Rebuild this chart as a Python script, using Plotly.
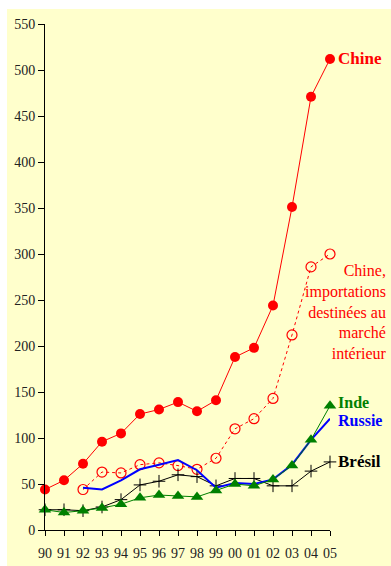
import plotly.graph_objects as go

# Years 1990-2005, plotted as 90..105 and labelled with two digits
years = list(range(90, 106))
year_labels = ["90", "91", "92", "93", "94", "95", "96", "97", "98", "99",
               "00", "01", "02", "03", "04", "05"]

chine = [44, 54, 72, 96, 105, 126, 131, 139, 129, 141, 188, 198, 244, 351, 471, 512]
chine_interieur = [None, None, 44, 63, 62, 71, 73, 70, 66, 78, 110, 121, 143, 212, 286, 300]
russie = [None, None, 46, 44, 54, 66, 71, 76, 65, 46, 51, 50, 55, 71, 98, 121]
inde = [22, 19, 21, 24, 28, 35, 38, 37, 36, 43, 50, 48, 55, 70, 98, 135]
bresil = [22, 22, 21, 25, 33, 49, 53, 60, 58, 48, 56, 56, 48, 48, 64, 74]

y_ticks = list(range(0, 551, 50))

RED = "#FF0000"
GREEN = "#008000"
BLUE = "#0000FF"
BLACK = "#000000"
BG = "#FFFFCC"
FONT = "Liberation Serif, Times New Roman, serif"

fig = go.Figure()

fig.add_trace(go.Scatter(
    x=years, y=chine_interieur, mode="lines+markers",
    line=dict(color=RED, width=1, dash="dot"),
    marker=dict(symbol="circle-open", size=10, color=RED, line=dict(width=1.2, color=RED)),
    cliponaxis=False, connectgaps=False))

fig.add_trace(go.Scatter(
    x=years, y=bresil, mode="lines+markers",
    line=dict(color=BLACK, width=1),
    marker=dict(symbol="cross-thin", size=9, line=dict(width=1, color=BLACK)),
    cliponaxis=False))

fig.add_trace(go.Scatter(
    x=years, y=russie, mode="lines",
    line=dict(color=BLUE, width=2),
    cliponaxis=False))

fig.add_trace(go.Scatter(
    x=years, y=inde, mode="lines+markers",
    line=dict(color=GREEN, width=1),
    marker=dict(symbol="triangle-up", size=11, color=GREEN),
    cliponaxis=False))

fig.add_trace(go.Scatter(
    x=years, y=chine, mode="lines+markers",
    line=dict(color=RED, width=1),
    marker=dict(symbol="circle", size=10, color=RED),
    cliponaxis=False))

# End-of-line series names (small vertical nudges keep Inde/Russie apart)
end_labels = [
    ("Chine", chine[-1], RED, 0, 17),
    ("Inde", inde[-1], GREEN, 3, 16),
    ("Russie", russie[-1], BLUE, -2, 16),
    ("Brésil", bresil[-1], BLACK, 0, 17),
]
annotations = []
for text, val, col, dy, fs in end_labels:
    annotations.append(dict(
        x=years[-1], y=val, xref="x", yref="y", text=f"<b>{text}</b>",
        showarrow=False, xanchor="left", yanchor="middle", xshift=7, yshift=dy,
        borderpad=0,
        font=dict(family=FONT, size=fs, color=col)))

annotations.append(dict(
    x=1.207, y=237, xref="paper", yref="y",
    text="Chine,<br>importations<br>destinées au<br>marché<br>intérieur",
    showarrow=False, xanchor="right", yanchor="middle", align="right",
    font=dict(family=FONT, size=16, color=RED)))

fig.update_layout(
    width=391, height=566,
    margin=dict(l=45, r=61, t=24, b=36),
    paper_bgcolor="white", plot_bgcolor=BG,
    showlegend=False,
    font=dict(family=FONT, size=14, color="#222222"),
    annotations=annotations,
    shapes=[dict(type="rect", xref="paper", yref="paper",
                 x0=-0.1333, x1=1.4, y0=-0.2, y1=1.0296,
                 fillcolor=BG, line=dict(width=0), layer="below")],
    xaxis=dict(range=[90, 105], tickvals=years, ticktext=year_labels,
               showgrid=False, zeroline=False, showline=True, linecolor=BLACK,
               linewidth=1, ticks="outside", ticklen=5, tickcolor=BLACK,
               ticklabelstandoff=5, automargin=False,
               tickfont=dict(family=FONT, size=14, color="#222222")),
    yaxis=dict(range=[0, 550], tickvals=y_ticks, automargin=False,
               showgrid=False, zeroline=False, showline=True, linecolor=BLACK,
               linewidth=1, ticks="outside", ticklen=6, tickcolor=BLACK,
               tickfont=dict(family=FONT, size=14, color="#222222")),
)

fig.write_html("out.html")
